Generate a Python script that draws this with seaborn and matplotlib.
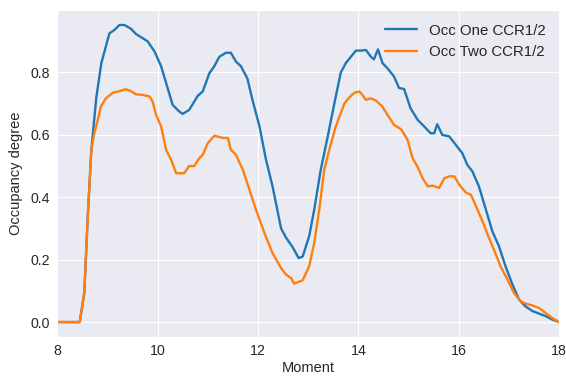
import numpy as np
import seaborn as sns
import matplotlib
matplotlib.use("Agg")
import matplotlib.pyplot as plt

# values (hour of day -> occupancy)
x_one = [8.0, 8.45, 8.54, 8.61, 8.68, 8.78, 8.88, 9.04, 9.14, 9.24, 9.34, 9.47, 9.57,
         9.70, 9.80, 9.94, 10.07, 10.20, 10.30, 10.43, 10.50, 10.63, 10.80, 10.90, 11.03,
         11.13, 11.23, 11.36, 11.46, 11.56, 11.66, 11.79, 11.89, 12.03, 12.16, 12.29, 12.46,
         12.56, 12.69, 12.81, 12.89, 13.02, 13.12, 13.25, 13.39, 13.52, 13.65, 13.75, 13.85,
         13.95, 14.05, 14.15, 14.25, 14.31, 14.39, 14.48, 14.58, 14.71, 14.81, 14.91, 15.04,
         15.18, 15.31, 15.44, 15.51, 15.57, 15.67, 15.81, 15.94, 16.07, 16.17, 16.27, 16.40,
         16.54, 16.67, 16.80, 16.93, 17.07, 17.20, 17.33, 17.47, 17.60, 17.73, 17.86, 18.0]
y_one = [0.0, 0.0, 0.093, 0.34, 0.55, 0.72, 0.83, 0.925, 0.936, 0.952, 0.952, 0.94, 0.923,
         0.91, 0.90, 0.867, 0.82, 0.75, 0.696, 0.675, 0.667, 0.68, 0.725, 0.739, 0.797,
         0.82, 0.85, 0.863, 0.863, 0.835, 0.82, 0.78, 0.712, 0.627, 0.52, 0.435, 0.30,
         0.27, 0.24, 0.205, 0.21, 0.275, 0.36, 0.488, 0.595, 0.70, 0.80, 0.83, 0.85,
         0.87, 0.87, 0.872, 0.85, 0.842, 0.874, 0.83, 0.813, 0.787, 0.75, 0.747, 0.685,
         0.648, 0.627, 0.605, 0.605, 0.634, 0.60, 0.595, 0.568, 0.541, 0.504, 0.483, 0.435,
         0.36, 0.29, 0.243, 0.179, 0.12, 0.072, 0.05, 0.035, 0.027, 0.019, 0.008, 0.0]

x_two = [8.0, 8.45, 8.54, 8.61, 8.68, 8.74, 8.81, 8.87, 8.97, 9.11, 9.24, 9.37, 9.47,
         9.57, 9.70, 9.84, 9.90, 9.97, 10.07, 10.17, 10.27, 10.37, 10.50, 10.53, 10.63,
         10.73, 10.83, 10.90, 11.0, 11.13, 11.23, 11.30, 11.40, 11.46, 11.56, 11.70, 11.83,
         11.96, 12.13, 12.29, 12.46, 12.56, 12.66, 12.72, 12.89, 13.02, 13.12, 13.22, 13.32,
         13.42, 13.55, 13.65, 13.72, 13.82, 13.92, 14.02, 14.08, 14.15, 14.25, 14.35, 14.48,
         14.58, 14.71, 14.85, 14.98, 15.08, 15.18, 15.28, 15.38, 15.48, 15.61, 15.71, 15.81,
         15.91, 16.01, 16.14, 16.24, 16.30, 16.40, 16.50, 16.60, 16.70, 16.83, 16.97, 17.10,
         17.23, 17.33, 17.47, 17.60, 17.73, 17.86, 18.0]
y_two = [0.0, 0.0, 0.093, 0.34, 0.55, 0.605, 0.648, 0.69, 0.717, 0.735, 0.74, 0.746, 0.74,
         0.73, 0.728, 0.723, 0.707, 0.664, 0.627, 0.552, 0.52, 0.477, 0.477, 0.477, 0.50,
         0.50, 0.525, 0.536, 0.573, 0.597, 0.593, 0.59, 0.59, 0.552, 0.536, 0.488, 0.424,
         0.36, 0.285, 0.221, 0.173, 0.152, 0.141, 0.123, 0.134, 0.179, 0.253, 0.36, 0.488,
         0.552, 0.627, 0.67, 0.70, 0.72, 0.735, 0.739, 0.728, 0.712, 0.717, 0.71, 0.69,
         0.664, 0.632, 0.618, 0.584, 0.525, 0.497, 0.461, 0.435, 0.437, 0.43, 0.461, 0.467,
         0.467, 0.44, 0.415, 0.408, 0.387, 0.35, 0.312, 0.27, 0.232, 0.179, 0.136, 0.093,
         0.067, 0.059, 0.053, 0.045, 0.029, 0.013, 0.0]

sns.set_style("darkgrid")
plt.rcParams['font.family'] = ['Liberation Sans', 'DejaVu Sans']

fig, ax = plt.subplots(figsize=(5.66, 3.76), dpi=100)
sns.lineplot(x=x_one, y=y_one, label="Occ One CCR1/2", color="#1f77b4", linewidth=1.7, ax=ax)
sns.lineplot(x=x_two, y=y_two, label="Occ Two CCR1/2", color="#ff7f0e", linewidth=1.7, ax=ax)

ax.set_xlim(8, 18)
ax.set_xlabel("Moment", fontsize=10.5, labelpad=2)
ax.set_ylabel("Occupancy degree", fontsize=10.5, labelpad=5.5)
ax.tick_params(labelsize=10.2, pad=1.5)
ax.legend(loc="upper right", frameon=False, fontsize=10.8, handlelength=2.1)

plt.subplots_adjust(left=0.101, right=0.988, top=0.973, bottom=0.104)
plt.savefig("out.png", dpi=100)
